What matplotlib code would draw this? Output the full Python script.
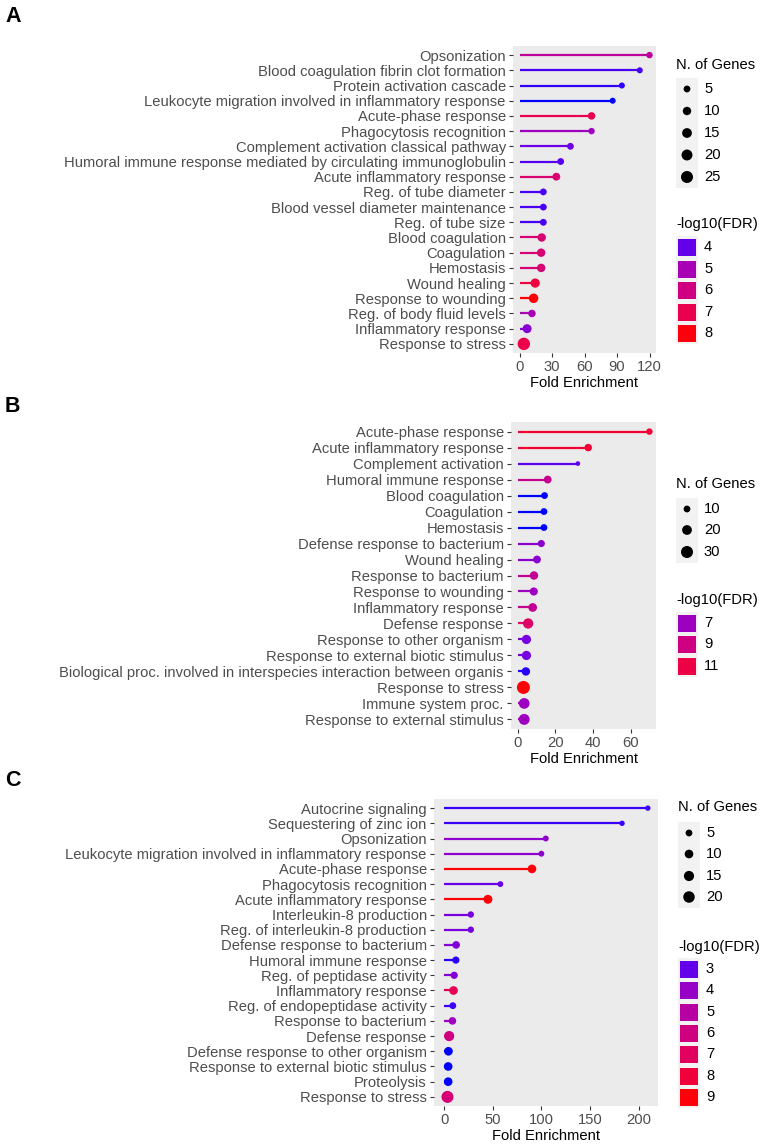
import numpy as np
import matplotlib
matplotlib.use("Agg")
import matplotlib.pyplot as plt
from matplotlib.patches import Rectangle

plt.rcParams['font.family'] = ['Liberation Sans', 'DejaVu Sans']

# ---------------- Data ----------------
a_terms = ["Opsonization", "Blood coagulation fibrin clot formation", "Protein activation cascade",
           "Leukocyte migration involved in inflammatory response", "Acute-phase response",
           "Phagocytosis recognition", "Complement activation classical pathway",
           "Humoral immune response mediated by circulating immunoglobulin", "Acute inflammatory response",
           "Reg. of tube diameter", "Blood vessel diameter maintenance", "Reg. of tube size",
           "Blood coagulation", "Coagulation", "Hemostasis", "Wound healing", "Response to wounding",
           "Reg. of body fluid levels", "Inflammatory response", "Response to stress"]
a_fold = [120, 111, 94.5, 86, 66.5, 66.5, 47, 38, 34, 22, 22, 22, 20.5, 20, 20, 14.5, 13, 11.5, 7, 4]
a_fdr = [5.5, 3.8, 3.7, 3.6, 7.0, 4.8, 4.1, 3.9, 6.4, 3.8, 3.8, 3.8, 6.3, 6.3, 6.3, 7.3, 8.1, 5.0, 4.4, 7.1]
a_genes = [4, 3, 3, 3, 7, 4, 5, 5, 8, 5, 5, 5, 10, 10, 10, 13, 14, 7, 12, 27]
a_size_breaks = [5, 10, 15, 20, 25]
a_col_breaks = [4, 5, 6, 7, 8]

b_terms = ["Acute-phase response", "Acute inflammatory response", "Complement activation",
           "Humoral immune response", "Blood coagulation", "Coagulation", "Hemostasis",
           "Defense response to bacterium", "Wound healing", "Response to bacterium",
           "Response to wounding", "Inflammatory response", "Defense response",
           "Response to other organism", "Response to external biotic stimulus",
           "Biological proc. involved in interspecies interaction between organis",
           "Response to stress", "Immune system proc.", "Response to external stimulus"]
b_fold = [70, 37.5, 32, 16, 14.3, 14, 14, 12.6, 10.3, 8.7, 8.6, 8, 5.6, 4.7, 4.7, 4.4, 3.1, 3.5, 3.5]
b_fdr = [11.5, 11.5, 5.6, 8.6, 5.0, 5.0, 5.0, 6.5, 6.5, 8.4, 7.0, 8.5, 10.0, 6.0, 6.0, 5.1, 12.5, 7.0, 7.0]
b_genes = [9, 12, 5, 13, 10, 10, 10, 11, 13, 15, 14, 16, 22, 18, 18, 15, 35, 24, 25]
b_size_breaks = [10, 20, 30]
b_col_breaks = [7, 9, 11]

c_terms = ["Autocrine signaling", "Sequestering of zinc ion", "Opsonization",
           "Leukocyte migration involved in inflammatory response", "Acute-phase response",
           "Phagocytosis recognition", "Acute inflammatory response", "Interleukin-8 production",
           "Reg. of interleukin-8 production", "Defense response to bacterium", "Humoral immune response",
           "Reg. of peptidase activity", "Inflammatory response", "Reg. of endopeptidase activity",
           "Response to bacterium", "Defense response", "Defense response to other organism",
           "Response to external biotic stimulus", "Proteolysis", "Response to stress"]
c_fold = [209.5, 183, 104.5, 100, 90.3, 57.8, 45, 27.4, 27.4, 12.3, 12, 10.3, 9.6, 8.9, 8.5, 5.1, 4.4, 4.1, 4.1, 3.4]
c_fdr = [2.6, 2.6, 3.8, 3.8, 9.0, 3.1, 9.0, 3.3, 3.3, 3.5, 2.5, 3.5, 7.3, 2.6, 4.2, 6.0, 2.4, 2.4, 2.4, 6.3]
c_genes = [2, 2, 3, 3, 10, 3, 11, 4, 4, 7, 6, 6, 10, 5, 7, 15, 10, 10, 10, 22]
c_size_breaks = [5, 10, 15, 20]
c_col_breaks = [3, 4, 5, 6, 7, 8, 9]

# ---------------- colour scale (Lab interpolation blue -> red) ----------------
def srgb_to_lab(rgb):
    rgb = np.asarray(rgb, float)
    lin = np.where(rgb <= 0.04045, rgb / 12.92, ((rgb + 0.055) / 1.055) ** 2.4)
    M = np.array([[0.4124564, 0.3575761, 0.1804375],
                  [0.2126729, 0.7151522, 0.0721750],
                  [0.0193339, 0.1191920, 0.9503041]])
    xyz = M @ lin
    xyz = xyz / np.array([0.95047, 1.0, 1.08883])
    f = np.where(xyz > 0.008856, np.cbrt(xyz), 7.787 * xyz + 16 / 116)
    return np.array([116 * f[1] - 16, 500 * (f[0] - f[1]), 200 * (f[1] - f[2])])

def lab_to_srgb(lab):
    L, a, b = lab
    fy = (L + 16) / 116
    fx = fy + a / 500
    fz = fy - b / 200
    def finv(t):
        return t ** 3 if t ** 3 > 0.008856 else (t - 16 / 116) / 7.787
    xyz = np.array([finv(fx), finv(fy), finv(fz)]) * np.array([0.95047, 1.0, 1.08883])
    Minv = np.array([[3.2404542, -1.5371385, -0.4985314],
                     [-0.9692660, 1.8760108, 0.0415560],
                     [0.0556434, -0.2040259, 1.0572252]])
    lin = np.clip(Minv @ xyz, 0, 1)
    rgb = np.where(lin <= 0.0031308, 12.92 * lin, 1.055 * lin ** (1 / 2.4) - 0.055)
    return tuple(np.clip(rgb, 0, 1))

LAB_LO = srgb_to_lab([0, 0, 1])
LAB_HI = srgb_to_lab([1, 0, 0])

def colour(v, lo, hi):
    t = np.clip((v - lo) / (hi - lo), 0, 1)
    return lab_to_srgb(LAB_LO + t * (LAB_HI - LAB_LO))

# ---------------- figure ----------------
W, H = 765, 1146
DPI = 100
fig = plt.figure(figsize=(W / DPI, H / DPI), dpi=DPI)
FS = 10.6
TXT = '#4D4D4D'
PANEL_BG = '#EBEBEB'

def px_axes(left, top, right, bottom, **kw):
    return fig.add_axes([left / W, 1 - bottom / H, (right - left) / W, (bottom - top) / H], **kw)

overlay = px_axes(0, 0, W, H, zorder=10)
overlay.set_xlim(0, W)
overlay.set_ylim(H, 0)
overlay.axis('off')
overlay.patch.set_alpha(0)

def diam_px(n, nlo, dlo, nhi, dhi):
    d2 = dlo ** 2 + (dhi ** 2 - dlo ** 2) * (np.asarray(n, float) - nlo) / (nhi - nlo)
    return np.sqrt(np.maximum(d2, 12.0))

def draw_panel(box, terms, fold, fdr, genes, xticks, size_ref, clim, size_breaks, col_breaks, leg, label):
    left, top, right, bottom = box
    ax = px_axes(left, top, right, bottom)
    ax.set_facecolor(PANEL_BG)
    for s in ax.spines.values():
        s.set_visible(False)
    n = len(terms)
    y = np.arange(n)
    cols = [colour(v, *clim) for v in fdr]
    d = diam_px(genes, *size_ref)
    ax.hlines(y, 0, fold, colors=cols, linewidth=1.6, zorder=2)
    ax.scatter(fold, y, s=(d * 0.72) ** 2, c=cols, linewidths=0, zorder=3)
    xmax = max(fold)
    ax.set_xlim(-0.05 * xmax, 1.05 * xmax)
    ax.set_ylim(n - 1 + 0.6, -0.6)
    ax.set_yticks(y)
    ax.set_yticklabels(terms, fontsize=FS, color=TXT)
    ax.set_xticks(xticks)
    ax.set_xticklabels([str(t) for t in xticks], fontsize=FS, color=TXT)
    ax.tick_params(length=3.2, width=0.8, color='#333333', pad=2)
    ax.set_xlabel('Fold Enrichment', fontsize=FS, color='black', labelpad=1.5)
    # panel label
    overlay.text(leg['label_xy'][0], leg['label_xy'][1], label, fontsize=15.5, fontweight='bold',
                 ha='left', va='center', color='black')
    # size legend
    lx = leg['x']
    overlay.text(lx, leg['size_title_y'], 'N. of Genes', fontsize=FS, ha='left', va='center')
    ys = leg['size_ys']
    overlay.add_patch(Rectangle((lx, ys[0] - 11), 22, ys[-1] - ys[0] + 22, facecolor='#F2F2F2',
                                edgecolor='none'))
    ds = diam_px(size_breaks, *size_ref)
    overlay.scatter([lx + 11] * len(size_breaks), ys, s=(ds * 0.72) ** 2, c='black', linewidths=0)
    for yy, b in zip(ys, size_breaks):
        overlay.text(lx + 28, yy, str(b), fontsize=FS, ha='left', va='center')
    # colour legend
    overlay.text(lx, leg['col_title_y'], '-log10(FDR)', fontsize=FS, ha='left', va='center')
    yc = leg['col_ys']
    overlay.add_patch(Rectangle((lx, yc[0] - 11), 22, yc[-1] - yc[0] + 22, facecolor='#F2F2F2',
                                edgecolor='none'))
    for yy, b in zip(yc, col_breaks):
        overlay.add_patch(Rectangle((lx + 2, yy - 8.5), 18, 17, facecolor=colour(b, *clim),
                                    edgecolor='none'))
        overlay.text(lx + 28, yy, str(b), fontsize=FS, ha='left', va='center')
    return ax

draw_panel((513, 46, 656, 353), a_terms, a_fold, a_fdr, a_genes, [0, 30, 60, 90, 120],
           (5, 6.8, 25, 12.0), (3.6, 8.1), a_size_breaks, a_col_breaks,
           dict(label_xy=(5, 17), x=676, size_title_y=65, size_ys=[89, 111, 133, 155, 177],
                col_title_y=224, col_ys=[247, 269, 290, 312, 333]), 'A')

draw_panel((511, 422, 656, 729), b_terms, b_fold, b_fdr, b_genes, [0, 20, 40, 60],
           (10, 6.8, 30, 12.0), (5.0, 12.6), b_size_breaks, b_col_breaks,
           dict(label_xy=(5, 407), x=676, size_title_y=484, size_ys=[509, 530, 552],
                col_title_y=600, col_ys=[623, 644, 666]), 'B')

draw_panel((434, 799, 658, 1106), c_terms, c_fold, c_fdr, c_genes, [0, 50, 100, 150, 200],
           (5, 6.8, 20, 11.5), (2.4, 9.1), c_size_breaks, c_col_breaks,
           dict(label_xy=(5, 781), x=678, size_title_y=807, size_ys=[833, 854, 876, 897],
                col_title_y=947, col_ys=[969, 990, 1012, 1033, 1054, 1076, 1097]), 'C')

fig.savefig('out.png', dpi=DPI)
